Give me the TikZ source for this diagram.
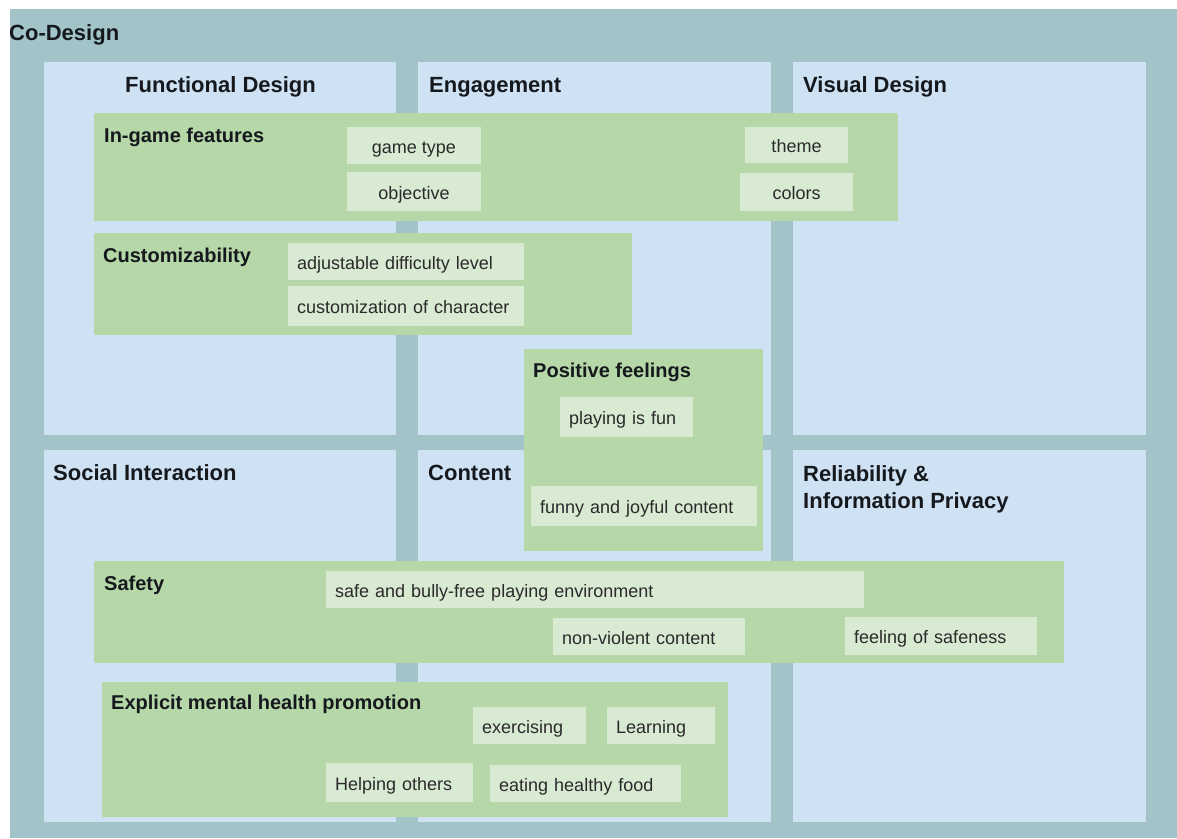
\documentclass[tikz,border=0pt]{standalone}
\usepackage{fontspec}
\setmainfont{Liberation Sans}
\definecolor{tealbg}{HTML}{A2C4C9}
\definecolor{panelc}{HTML}{CFE2F3}
\definecolor{greenc}{HTML}{B6D7A8}
\definecolor{itemc}{HTML}{D9EAD3}
\definecolor{titlec}{HTML}{15191E}
\definecolor{textc}{HTML}{2A2A2A}
\tikzset{
  panel/.style={fill=panelc, draw=none, anchor=north west, inner sep=0pt},
  group/.style={fill=greenc, draw=none, anchor=north west, inner sep=0pt},
  maintitle/.style={anchor=base west, inner sep=0pt, text=titlec, font=\fontsize{22}{27}\selectfont\bfseries},
  grouptitle/.style={anchor=base west, inner sep=0pt, text=titlec, font=\fontsize{20}{24}\selectfont\bfseries},
  itembox/.style={fill=itemc, draw=none, inner ysep=0pt, inner xsep=9pt, text=textc,
    font=\fontsize{18}{21}\selectfont, text height=15.5pt, text depth=0pt},
  itemL/.style={itembox, anchor=west, align=left},
  itemC/.style={itembox, anchor=center}
}
\begin{document}
\begin{tikzpicture}[x=1pt,y=-1pt]
\useasboundingbox (0,0) rectangle (1177,838);
\fill[tealbg] (10,9) rectangle (1177,838);
\node[maintitle] (codesign) at (9,40) {Co-Design};
% panels
\node[panel, minimum width=352pt, minimum height=373pt] (fd)  at (44,62) {};
\node[panel, minimum width=353pt, minimum height=373pt] (eng) at (418,62) {};
\node[panel, minimum width=353pt, minimum height=373pt] (vis) at (793,62) {};
\node[panel, minimum width=352pt, minimum height=372pt] (soc) at (44,450) {};
\node[panel, minimum width=353pt, minimum height=372pt] (con) at (418,450) {};
\node[panel, minimum width=353pt, minimum height=372pt] (rel) at (793,450) {};
\node[maintitle] (fdt)  at (125,92) {Functional Design};
\node[maintitle] (engt) at (429,92) {Engagement};
\node[maintitle] (vist) at (803,92) {Visual Design};
\node[maintitle] (soct) at (53,480) {Social Interaction};
\node[maintitle] (cont) at (428,480) {Content};
\node[maintitle, anchor=north west, align=left] (relt) at (803,465) {Reliability \&\\Information Privacy};
% groups
\node[group, minimum width=804pt, minimum height=108pt] (ingame)   at (94,113) {};
\node[group, minimum width=538pt, minimum height=102pt] (custom)   at (94,233) {};
\node[group, minimum width=239pt, minimum height=202pt] (posfeel)  at (524,349) {};
\node[group, minimum width=970pt, minimum height=102pt] (safety)   at (94,561) {};
\node[group, minimum width=626pt, minimum height=135pt] (explicit) at (102,682) {};
\node[grouptitle] (ingamet)   at (104,142) {In-game features};
\node[grouptitle] (customt)   at (103,262) {Customizability};
\node[grouptitle] (posfeelt)  at (533,377) {Positive feelings};
\node[grouptitle] (safetyt)   at (104,590) {Safety};
\node[grouptitle] (explicitt) at (111,709) {Explicit mental health promotion};
% items
\node[itemC, minimum width=134pt, minimum height=37pt] (gametype)  at (414,145.5) {game type};
\node[itemC, minimum width=134pt, minimum height=39pt] (objective) at (414,191.5) {objective};
\node[itemC, minimum width=103pt, minimum height=36pt] (theme)     at (796.5,145) {theme};
\node[itemC, minimum width=113pt, minimum height=38pt] (colors)    at (796.5,192) {colors};
\node[itemL, minimum width=236pt, minimum height=37pt, text width=218pt] (adjust)     at (288,261.5) {adjustable difficulty level};
\node[itemL, minimum width=236pt, minimum height=40pt, text width=218pt] (customchar) at (288,306) {customization of character};
\node[itemL, minimum width=133pt, minimum height=40pt, text width=115pt] (playfun)    at (560,417) {playing is fun};
\node[itemL, minimum width=226pt, minimum height=40pt, text width=208pt] (funny)      at (531,506) {funny and joyful content};
\node[itemL, minimum width=538pt, minimum height=37pt, text width=520pt] (safeenv)    at (326,589.5) {safe and bully-free playing environment};
\node[itemL, minimum width=192pt, minimum height=37pt, text width=174pt] (nonviol)    at (553,636.5) {non-violent content};
\node[itemL, minimum width=192pt, minimum height=38pt, text width=174pt] (feelsafe)   at (845,636) {feeling of safeness};
\node[itemL, minimum width=113pt, minimum height=37pt, text width=95pt]  (exerc)      at (473,725.5) {exercising};
\node[itemL, minimum width=108pt, minimum height=37pt, text width=90pt]  (learning)   at (607,725.5) {Learning};
\node[itemL, minimum width=147pt, minimum height=39pt, text width=129pt] (helping)    at (326,782.5) {Helping others};
\node[itemL, minimum width=191pt, minimum height=37pt, text width=173pt] (eating)     at (490,783.5) {eating healthy food};
\end{tikzpicture}
\end{document}
